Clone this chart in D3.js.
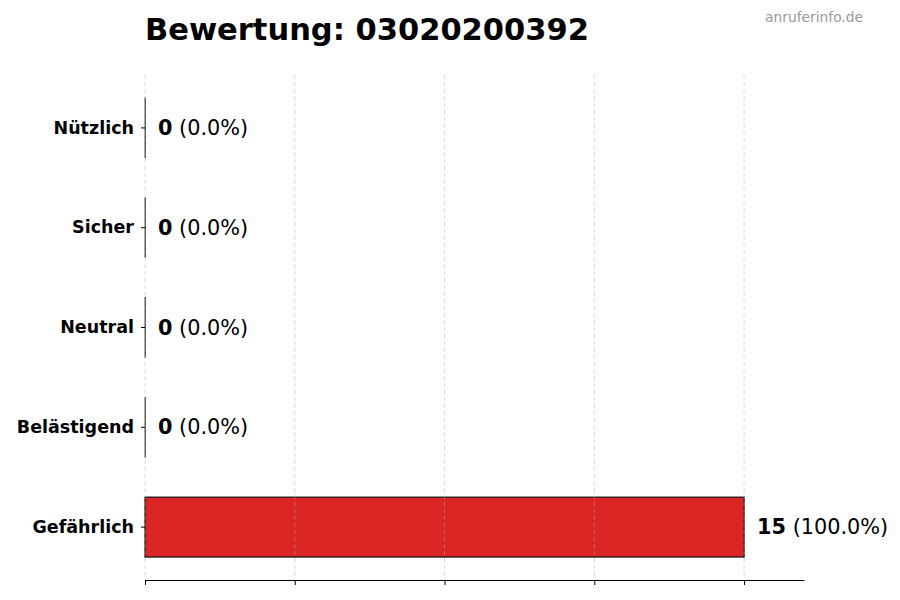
<!DOCTYPE html>
<html>
<head>
<meta charset="utf-8">
<script src="https://cdn.jsdelivr.net/npm/d3@7"></script>
<style>
body { margin: 0; background: #fff; }
text { font-family: "DejaVu Sans", sans-serif; }
</style>
</head>
<body>
<script>
// Chart data
var categories = ["Nützlich", "Sicher", "Neutral", "Belästigend", "Gefährlich"];
var counts = [0, 0, 0, 0, 15];
var percents = ["0.0%", "0.0%", "0.0%", "0.0%", "100.0%"];
var barColors = ["#2ca02c", "#2ca02c", "#7f7f7f", "#ff7f0e", "#dc2626"];
var titleText = "Bewertung: 03020200392";
var sourceText = "anruferinfo.de";

var width = 900, height = 600;
var margin = {left: 145, right: 96, top: 78, bottom: 23};

var svg = d3.select("body").append("svg")
    .attr("width", width)
    .attr("height", height);

var maxVal = d3.max(counts);
var x = d3.scaleLinear()
    .domain([0, maxVal * 1.1])
    .range([margin.left, width - margin.right]);

var y = d3.scaleBand()
    .domain(categories)
    .range([margin.top, height - margin.bottom])
    .paddingInner(0.4)
    .paddingOuter(0.2);

var tickVals = d3.range(0, 5).map(function(i){ return maxVal * i / 4; });

// Bars (zero values still show as a thin edge)
svg.append("g").selectAll("rect")
    .data(categories)
    .enter().append("rect")
    .attr("x", x(0))
    .attr("y", function(d){ return y(d); })
    .attr("width", function(d, i){ return Math.max(x(counts[i]) - x(0), 0.3); })
    .attr("height", y.bandwidth())
    .attr("fill", function(d, i){ return barColors[i]; })
    .attr("stroke", "#111")
    .attr("stroke-width", function(d, i){ return counts[i] > 0 ? 1.2 : 0.7; });

// Vertical gridlines (drawn over the bars)
svg.append("g").selectAll("line")
    .data(tickVals)
    .enter().append("line")
    .attr("x1", function(d){ return x(d); })
    .attr("x2", function(d){ return x(d); })
    .attr("y1", 75)
    .attr("y2", 580)
    .attr("stroke", "#b0b0b0")
    .attr("stroke-opacity", 0.6)
    .attr("stroke-dasharray", "4,3")
    .attr("stroke-width", 0.8);

// X axis, no labels
var xAxis = svg.append("g")
    .attr("transform", "translate(0,580)")
    .call(d3.axisBottom(x).tickValues(tickVals).tickFormat("").tickSize(5).tickSizeOuter(0));
xAxis.select(".domain").attr("stroke", "#000").attr("stroke-width", 1);
xAxis.selectAll(".tick line").attr("stroke", "#000");

// Y axis
var yAxis = svg.append("g")
    .attr("transform", "translate(" + x(0) + ",0)")
    .call(d3.axisLeft(y).tickSize(4).tickPadding(7));
yAxis.select(".domain").remove();
yAxis.selectAll(".tick line").attr("stroke", "#000");
yAxis.selectAll(".tick text")
    .attr("font-family", "DejaVu Sans")
    .attr("font-size", 17.5)
    .attr("font-weight", "bold")
    .attr("fill", "#000");

// Value labels
var labels = svg.append("g").selectAll("text")
    .data(categories)
    .enter().append("text")
    .attr("x", function(d, i){ return x(counts[i]) + 13; })
    .attr("y", function(d){ return y(d) + y.bandwidth() / 2; })
    .attr("dominant-baseline", "central")
    .attr("font-size", 20.8);
labels.append("tspan")
    .attr("font-weight", "bold")
    .text(function(d, i){ return counts[i]; });
labels.append("tspan")
    .text(function(d, i){ return " (" + percents[i] + ")"; });

// Title
svg.append("text")
    .attr("x", margin.left)
    .attr("y", 40)
    .attr("font-size", 30.5)
    .attr("font-weight", "bold")
    .attr("fill", "#000")
    .text(titleText);

// Source watermark
svg.append("text")
    .attr("x", 863)
    .attr("y", 22)
    .attr("text-anchor", "end")
    .attr("font-size", 13.8)
    .attr("fill", "#999")
    .text(sourceText);
</script>
</body>
</html>
